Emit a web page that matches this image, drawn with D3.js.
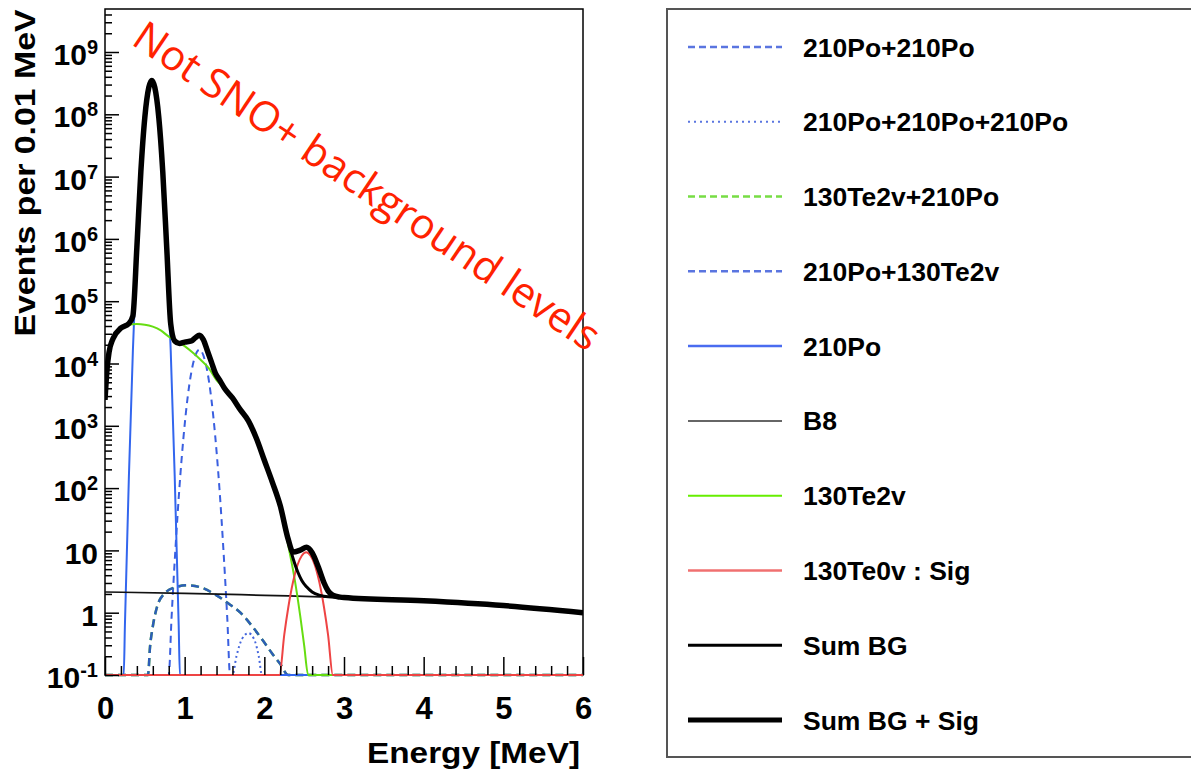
<!DOCTYPE html>
<html>
<head>
<meta charset="utf-8">
<script src="https://cdn.jsdelivr.net/npm/d3@7"></script>
<style>
  html, body { margin: 0; padding: 0; background: #fff; }
  svg { display: block; }
</style>
</head>
<body>
<div id="chart"></div>
<script>
// values: energy in MeV, events per 0.01 MeV (0 = below the axis)

// 210Po + 210Po pile-up (narrow dashed)
const po2E = [0, 0.78, 0.8, 0.835, 0.885, 0.935, 0.985, 1.035, 1.085, 1.135, 1.185, 1.235, 1.285, 1.335, 1.385, 1.435, 1.485, 1.535, 1.57, 1.6, 6];
const po2V = [0, 0, 0.1, 0.81, 11, 105, 650, 2700, 7400, 13500, 16600, 13500, 7400, 2700, 650, 105, 11, 0.81, 0.1, 0, 0];

// 210Po x3 pile-up (dotted)
const po3E = [0, 1.58, 1.6, 1.65, 1.72, 1.8, 1.87, 1.93, 1.97, 2.0, 6];
const po3V = [0, 0, 0.1, 0.2, 0.38, 0.47, 0.38, 0.2, 0.1, 0, 0];

// 210Po + 130Te2v pile-up (wide dashed); 130Te2v + 210Po reads the same
const poTeE = [0, 0.52, 0.54, 0.565, 0.6, 0.65, 0.75, 0.88, 1.03, 1.2, 1.4, 1.55, 1.7, 1.85, 1.98, 2.1, 2.2, 2.3, 2.33, 6];
const poTeV = [0, 0, 0.1, 0.28, 0.6, 1.2, 2.05, 2.55, 2.75, 2.55, 1.9, 1.4, 1.0, 0.6, 0.36, 0.22, 0.15, 0.1, 0, 0];
const tePoE = poTeE;
const tePoV = poTeV;

// 210Po
const po1E = [0, 0.2, 0.235, 0.25, 0.3, 0.35, 0.4, 0.45, 0.5, 0.55, 0.5875, 0.625, 0.675, 0.725, 0.775, 0.825, 0.875, 0.925, 0.94, 0.98, 6];
const po1V = [0, 0, 0.1, 0.63, 155, 16000, 6.9e5, 1.2e7, 9e7, 2.7e8, 3.5e8, 2.7e8, 9e7, 1.2e7, 6.9e5, 16000, 155, 0.63, 0.1, 0, 0];

// 8B solar neutrinos
const b8E = [0, 1, 2, 3, 4, 5, 6];
const b8V = [2.15, 2.05, 1.9, 1.75, 1.55, 1.3, 1.0];

// 130Te 2vbb
const te2vE = [0, 0.025, 0.05, 0.1, 0.2, 0.3, 0.4, 0.5, 0.6, 0.7, 0.8, 0.9, 1.0, 1.1, 1.2, 1.3, 1.4, 1.5, 1.6, 1.7, 1.8, 1.9, 2.0, 2.1, 2.2, 2.3, 2.38, 2.45, 2.5, 2.55, 2.6, 6];
const te2vV = [2600, 8000, 15000, 25000, 37000, 42000, 43000, 42000, 39000, 34000, 27000, 23000, 19000, 15000, 11500, 8500, 5400, 4000, 2800, 1800, 1200, 630, 280, 125, 50, 12, 3.5, 0.9, 0.3, 0.1, 0, 0];

// 130Te 0vbb signal
const te0vE = [0, 2.17, 2.19, 2.25, 2.3, 2.36, 2.42, 2.47, 2.525, 2.58, 2.63, 2.69, 2.75, 2.8, 2.86, 2.88, 6];
const te0vV = [0, 0, 0.1, 0.44, 1.2, 3.1, 6.0, 8.2, 9.3, 8.2, 6.0, 3.1, 1.2, 0.44, 0.1, 0, 0];

// sums: common part below 2.2 MeV, then each one's own tail
const sumLowE = [0, 0.025, 0.05, 0.1, 0.2, 0.3, 0.35, 0.4, 0.45, 0.5, 0.55, 0.5875, 0.625, 0.675, 0.725, 0.775, 0.825, 0.875, 0.935, 1.0, 1.085, 1.135, 1.185, 1.235, 1.285, 1.335, 1.385, 1.44, 1.5, 1.6, 1.7, 1.8, 1.9, 2.0, 2.1, 2.2];
const sumLowV = [2600, 8000, 15000, 25000, 37000, 44000, 58000, 7.3e5, 1.2e7, 9e7, 2.7e8, 3.5e8, 2.7e8, 9e7, 1.2e7, 7.2e5, 43000, 23000, 21000, 22000, 23000, 26000, 28500, 24000, 16000, 10600, 7000, 5400, 4000, 2800, 1800, 1200, 630, 280, 125, 52];
const sumBgTailE = [2.3, 2.36, 2.42, 2.47, 2.53, 2.6, 2.7, 2.8, 3.0, 4.0, 5.0, 6.0];
const sumBgTailV = [14, 7.5, 4.5, 3.3, 2.6, 2.15, 1.9, 1.8, 1.75, 1.55, 1.3, 1.0];
const sumSigTailE = [2.3, 2.36, 2.45, 2.53, 2.6, 2.68, 2.75, 2.8, 2.86, 2.95, 3.0, 4.0, 5.0, 6.0];
const sumSigTailV = [15, 9.4, 10.1, 11.2, 9.2, 5.3, 3.0, 2.24, 1.9, 1.78, 1.75, 1.55, 1.3, 1.0];

const xMajorTicks = [0, 1, 2, 3, 4, 5, 6];
const yDecades = [-1, 0, 1, 2, 3, 4, 5, 6, 7, 8, 9];

const legendLabels = ["210Po+210Po", "210Po+210Po+210Po", "130Te2v+210Po", "210Po+130Te2v", "210Po",
                      "B8", "130Te2v", "130Te0v : Sig", "Sum BG", "Sum BG + Sig"];

const zip = (es, vs) => es.map((e, i) => [e, vs[i]]);

// drawn in legend order, last one on top
const series = [
  { pts: zip(po2E, po2V), plot: { c: "#3a5fe0", w: 2, dash: "7,5" }, key: { c: "#5a75e0", w: 2.5, dash: "7,4" } },
  { pts: zip(po3E, po3V), plot: { c: "#4466dd", w: 2, dash: "2,3" }, key: { c: "#5a75e0", w: 2, dash: "2,4" } },
  { pts: zip(tePoE, tePoV), plot: { c: "#66cc22", w: 2.5, dash: "8,5" }, key: { c: "#77dd44", w: 2.5, dash: "7,4" } },
  { pts: zip(poTeE, poTeV), plot: { c: "#2d5db8", w: 2.5, dash: "8,5" }, key: { c: "#5a75e0", w: 2.5, dash: "7,4" } },
  { pts: zip(po1E, po1V), plot: { c: "#3366ee", w: 2, dash: null }, key: { c: "#4a6cf0", w: 2.5, dash: null } },
  { pts: zip(b8E, b8V), plot: { c: "#111", w: 1.7, dash: null }, key: { c: "#666", w: 2, dash: null } },
  { pts: zip(te2vE, te2vV), plot: { c: "#66dd11", w: 2, dash: null }, key: { c: "#66ee00", w: 2, dash: null } },
  { pts: zip(te0vE, te0vV), plot: { c: "#ee4444", w: 2, dash: null }, key: { c: "#f07070", w: 2.5, dash: null } },
  { pts: zip(sumLowE.concat(sumBgTailE), sumLowV.concat(sumBgTailV)), plot: { c: "#000", w: 3, dash: null }, key: { c: "#000", w: 3, dash: null } },
  { pts: zip(sumLowE.concat(sumSigTailE), sumLowV.concat(sumSigTailV)), plot: { c: "#000", w: 5.5, dash: null }, key: { c: "#000", w: 5, dash: null } }
];

const width = 1191, height = 771;
const frame = { left: 105, top: 9, right: 583, bottom: 675 };
const yMin = 0.1, yMax = 4.9e9;
const font = "'Liberation Sans', Arial, Helvetica, sans-serif";

const svg = d3.select("#chart").append("svg")
    .attr("width", width)
    .attr("height", height);

const x = d3.scaleLinear().domain([0, 6]).range([frame.left, frame.right]);
const y = d3.scaleLog().domain([yMin, yMax]).range([frame.bottom, frame.top]);

svg.append("clipPath").attr("id", "plotclip")
  .append("rect")
    .attr("x", frame.left).attr("y", frame.top - 2)
    .attr("width", frame.right - frame.left)
    .attr("height", frame.bottom - frame.top + 5);

// values below the axis minimum are drawn along the bottom edge, like ROOT does
const line = d3.line()
    .x(d => x(d[0]))
    .y(d => y(Math.max(d[1], yMin)))
    .curve(d3.curveMonotoneX);

// frame first so the zero-level curves sit on top of its bottom edge
svg.append("rect")
    .attr("x", frame.left).attr("y", frame.top)
    .attr("width", frame.right - frame.left)
    .attr("height", frame.bottom - frame.top)
    .attr("fill", "none")
    .attr("stroke", "#000")
    .attr("stroke-width", 1.5);

const curves = svg.append("g").attr("clip-path", "url(#plotclip)");
series.forEach(s => {
  curves.append("path")
      .datum(s.pts)
      .attr("d", line)
      .attr("fill", "none")
      .attr("stroke", s.plot.c)
      .attr("stroke-width", s.plot.w)
      .attr("stroke-dasharray", s.plot.dash)
      .attr("stroke-linejoin", "round");
});

// x axis: ticks point inward
const xMinorTicks = d3.range(0, 30).map(i => i * 0.2).filter(v => !xMajorTicks.includes(Math.round(v * 10) / 10));
const xAxisMinor = svg.append("g")
    .attr("transform", `translate(0,${frame.bottom})`)
    .call(d3.axisBottom(x).tickValues(xMinorTicks).tickSize(-9).tickFormat(""));
const xAxisMajor = svg.append("g")
    .attr("transform", `translate(0,${frame.bottom})`)
    .call(d3.axisBottom(x).tickValues(xMajorTicks).tickSize(-18).tickPadding(22).tickFormat(d3.format("d")));
xAxisMajor.selectAll("text")
    .attr("font-family", font)
    .attr("font-weight", "bold")
    .attr("font-size", 31)
    .attr("fill", "#000");

// y axis: decades plus 2..9 minor ticks
const yMinorTicks = [];
yDecades.forEach(e => {
  for (let k = 2; k <= 9; k++) {
    const v = k * Math.pow(10, e);
    if (v <= yMax) yMinorTicks.push(v);
  }
});
const yAxisMinor = svg.append("g")
    .attr("transform", `translate(${frame.left},0)`)
    .call(d3.axisLeft(y).tickValues(yMinorTicks).tickSize(-7).tickFormat(""));
const yAxisMajor = svg.append("g")
    .attr("transform", `translate(${frame.left},0)`)
    .call(d3.axisLeft(y).tickValues(yDecades.map(e => Math.pow(10, e))).tickSize(-14).tickPadding(7));

yAxisMajor.selectAll(".tick text")
    .attr("font-family", font)
    .attr("font-weight", "bold")
    .attr("font-size", 30)
    .attr("fill", "#000")
    .attr("dy", "0.42em")
    .each(function(d) {
      const t = d3.select(this).text(null);
      const e = Math.round(Math.log10(d));
      if (e === 0) { t.text("1"); return; }
      if (e === 1) { t.text("10"); return; }
      t.append("tspan").text("10");
      t.append("tspan").attr("font-size", 20).attr("dy", -11).text(e);
    });

[xAxisMinor, xAxisMajor, yAxisMinor, yAxisMajor].forEach(g => {
  g.select(".domain").remove();
  g.selectAll(".tick line").attr("stroke", "#000").attr("stroke-width", 1.5);
});

// axis titles
svg.append("text")
    .attr("transform", "translate(35,173) rotate(-90)")
    .attr("text-anchor", "middle")
    .attr("font-family", font)
    .attr("font-weight", "bold")
    .attr("font-size", 30)
    .attr("textLength", 327)
    .attr("lengthAdjust", "spacingAndGlyphs")
    .text("Events per 0.01 MeV");

svg.append("text")
    .attr("x", 580).attr("y", 763)
    .attr("text-anchor", "end")
    .attr("font-family", font)
    .attr("font-weight", "bold")
    .attr("font-size", 30)
    .attr("textLength", 213)
    .attr("lengthAdjust", "spacingAndGlyphs")
    .text("Energy [MeV]");

// annotation
svg.append("text")
    .attr("transform", "translate(359,198) rotate(34)")
    .attr("text-anchor", "middle")
    .attr("font-family", "'Open Sans', 'Noto Sans', sans-serif")
    .attr("font-size", 41.5)
    .attr("fill", "#ff2200")
    .text("Not SNO+ background levels");

// legend
const legend = svg.append("g");
legend.append("rect")
    .attr("x", 667).attr("y", 9)
    .attr("width", 560).attr("height", 748)
    .attr("fill", "#fff")
    .attr("stroke", "#555")
    .attr("stroke-width", 2);

const legendY = d3.scalePoint().domain(d3.range(legendLabels.length)).range([47, 720]);
legendLabels.forEach((label, i) => {
  const s = series[i].key;
  const yy = legendY(i);
  legend.append("line")
      .attr("x1", 688).attr("x2", 782)
      .attr("y1", yy).attr("y2", yy)
      .attr("stroke", s.c)
      .attr("stroke-width", s.w)
      .attr("stroke-dasharray", s.dash);
  legend.append("text")
      .attr("x", 803).attr("y", yy + 9.5)
      .attr("font-family", font)
      .attr("font-weight", "bold")
      .attr("font-size", 26.5)
      .attr("fill", "#000")
      .text(label);
});
</script>
</body>
</html>
